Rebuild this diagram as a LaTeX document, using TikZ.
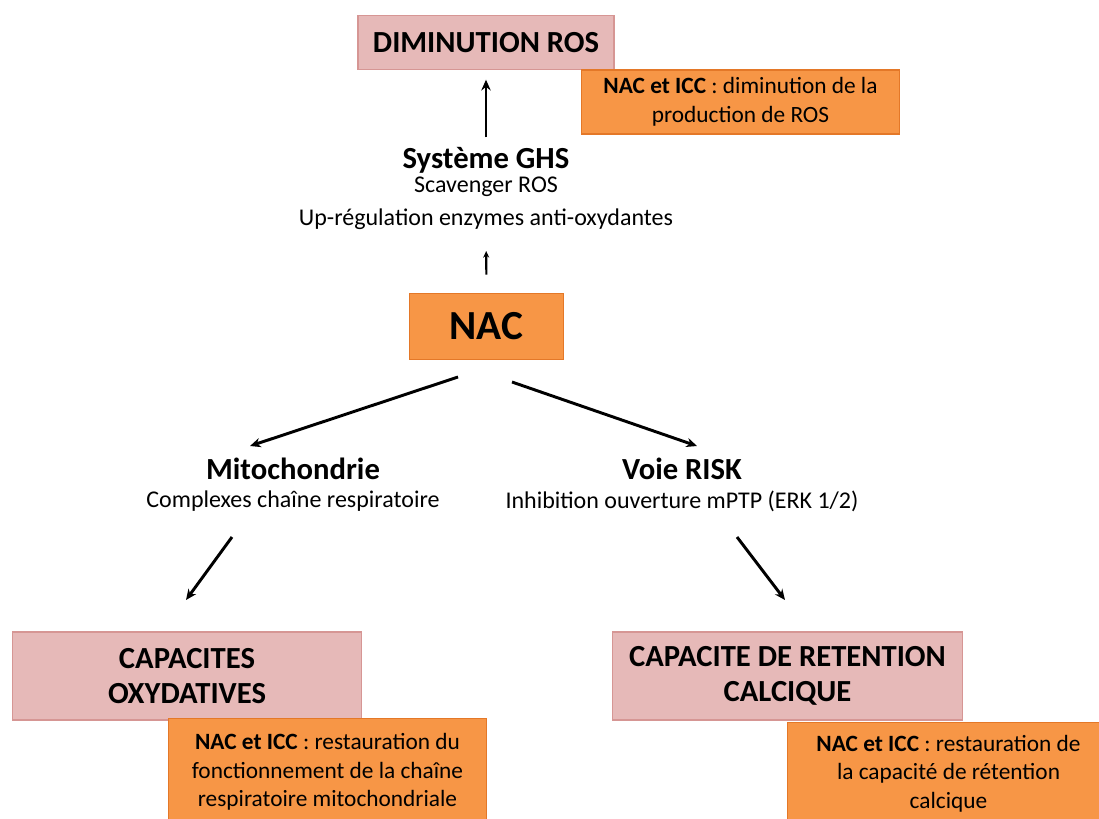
\documentclass[tikz,border=0pt]{standalone}
\usepackage{fontspec}
\setmainfont{Carlito}
\usetikzlibrary{positioning, arrows.meta}
\definecolor{PinkFill}{RGB}{230,185,184}
\definecolor{PinkLine}{RGB}{214,150,148}
\definecolor{OrangeFill}{RGB}{247,150,70}
\definecolor{OrangeLine}{RGB}{228,120,40}

\begin{document}
\begin{tikzpicture}[x=0.75pt, y=-0.75pt,
  pinkbox/.style={rectangle, draw=PinkLine, fill=PinkFill, line width=0.8pt, align=center, font=\fontsize{23}{26}\selectfont\bfseries},
  orangebox/.style={rectangle, draw=OrangeLine, fill=OrangeFill, line width=0.8pt, align=center, font=\fontsize{17.5}{21.5}\selectfont},
  head/.style={inner sep=1pt, font=\fontsize{23}{26}\selectfont\bfseries},
  sub/.style={inner sep=1pt, font=\fontsize{18}{21}\selectfont},
  arr/.style={-{Stealth[length=8pt, width=7pt]}, line width=2.2pt, black},
  arrsmall/.style={-{Stealth[length=5pt, width=4.5pt]}, line width=1.6pt, black}]
\useasboundingbox (0,0) rectangle (1099,818);
% top
\node (dimros) [pinkbox, minimum width=192pt, minimum height=41pt] at (486,42.5) {DIMINUTION ROS};
\node (rosnote) [orangebox, minimum width=239pt, minimum height=48pt] at (740.5,102) {\textbf{NAC et ICC} : diminution de la\\production de ROS};
\node (ghs) [head] at (486,160) {Système GHS};
\node (ghsa) [sub] at (486,187) {Scavenger ROS};
\node (ghsb) [sub] at (486,219) {Up-régulation enzymes anti-oxydantes};
% centre
\node (nac) [orangebox, minimum width=115pt, minimum height=49pt, font=\fontsize{31}{31}\selectfont\bfseries] at (486.5,326.5) {NAC};
\node (mito) [head] at (293,469) {Mitochondrie};
\node (mitoa) [sub] at (293,501) {Complexes chaîne respiratoire};
\node (risk) [head] at (682,469) {Voie RISK};
\node (riska) [sub] at (682,501) {Inhibition ouverture mPTP (ERK 1/2)};
% bottom
\node (capox) [pinkbox, minimum width=262pt, minimum height=66pt] at (187,676) {CAPACITES\\OXYDATIVES};
\node (oxnote) [orangebox, minimum width=239pt, minimum height=80pt] at (327.5,772) {\textbf{NAC et ICC} : restauration du\\fonctionnement de la chaîne\\respiratoire mitochondriale};
\node (capca) [pinkbox, minimum width=262pt, minimum height=66pt] at (787.5,676) {CAPACITE DE RETENTION\\CALCIQUE};
\node (canote) [orangebox, minimum width=242pt, minimum height=77pt] at (948.5,773.5) {\textbf{NAC et ICC} : restauration de\\la capacité de rétention\\calcique};
% arrow ends
\coordinate (nacL) at (458,377);
\coordinate (nacR) at (512,382);
\coordinate (mitoT) at (250,446);
\coordinate (riskT) at (697,446);
\coordinate (mitoB) at (232,537);
\coordinate (riskB) at (737,537);
\coordinate (capoxT) at (186,600);
\coordinate (capcaT) at (785,600);
\draw[arr, shorten <=6pt, shorten >=7pt] (ghs.north) -- (dimros.south);
\draw[arrsmall, shorten <=14pt, shorten >=15pt] (nac.north) -- (ghsb.south);
\draw[arr] (nacL) -- (mitoT);
\draw[arr] (nacR) -- (riskT);
\draw[arr] (mitoB) -- (capoxT);
\draw[arr] (riskB) -- (capcaT);
\end{tikzpicture}
\end{document}
